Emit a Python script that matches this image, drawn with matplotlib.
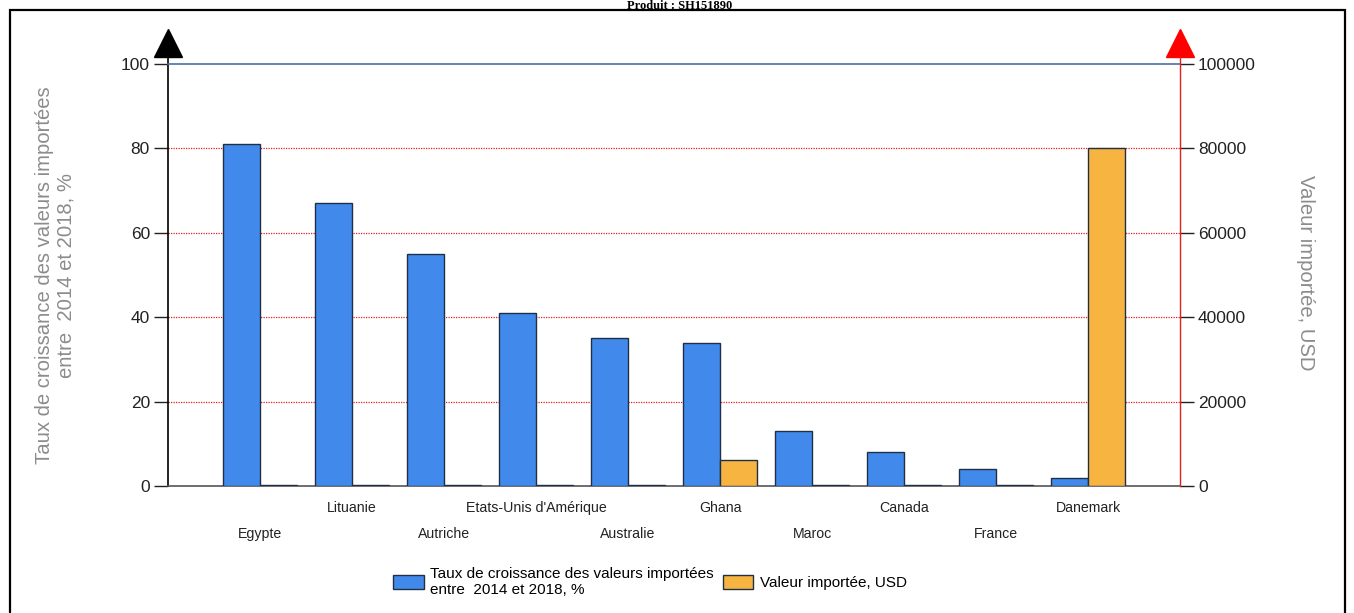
import matplotlib
matplotlib.use("Agg")
import matplotlib.pyplot as plt
import numpy as np
from matplotlib.patches import Rectangle

# data
countries = ["Egypte", "Lituanie", "Autriche", "Etats-Unis d'Amérique", "Australie",
             "Ghana", "Maroc", "Canada", "France", "Danemark"]
growth_pct = [81, 67, 55, 41, 35, 34, 13, 8, 4, 2]
import_usd = [150, 150, 150, 150, 150, 6200, 150, 150, 150, 80000]

label_growth = "Taux de croissance des valeurs importées\nentre  2014 et 2018, %"
label_value = "Valeur importée, USD"

plt.rcParams['font.family'] = ['Liberation Sans', 'DejaVu Sans']

W, H = 1354, 613
fig = plt.figure(figsize=(W / 100, H / 100), dpi=100)
ax = fig.add_axes([168 / W, 127 / H, 1012 / W, 422 / H])
ax2 = ax.twinx()

x = np.arange(1, len(countries) + 1)
b1 = ax.bar(x - 0.2, growth_pct, width=0.4, color='#418aeb', edgecolor='#1f2f45', lw=1, zorder=3)
b2 = ax2.bar(x + 0.2, import_usd, width=0.4, color='#f8b440', edgecolor='#1f2f45', lw=1, zorder=3)

ax.set_xlim(0, 11)
ax.set_ylim(0, 100)
ax2.set_ylim(0, 100000)
ax.set_yticks(range(0, 101, 20))
ax2.set_yticks(range(0, 100001, 20000))
ax.set_xticks([])

# red dotted grid lines
for v in [20, 40, 60, 80]:
    ax.axhline(v, color='#e02020', ls=(0, (1, 1)), lw=0.9, zorder=1)

# spines
ax.spines['right'].set_visible(False)
ax.spines['top'].set_color('#4a72a8')
ax.spines['top'].set_linewidth(1.2)
ax.spines['left'].set_color('black')
ax.spines['left'].set_linewidth(1.2)
ax.spines['left'].set_bounds(0, 102)
ax.spines['bottom'].set_color('#555555')
ax.spines['bottom'].set_linewidth(1.2)
for s in ['left', 'top', 'bottom']:
    ax2.spines[s].set_visible(False)
ax2.spines['right'].set_color('#e02020')
ax2.spines['right'].set_linestyle((0, (1, 1)))
ax2.spines['right'].set_linewidth(1)
ax2.spines['right'].set_bounds(0, 102000)

ax.tick_params(axis='y', direction='out', length=10, width=1, labelsize=12.5, pad=3, colors='#222222')
ax2.tick_params(axis='y', direction='out', length=10, width=1, labelsize=12.5, pad=3, colors='#222222')

# arrow heads at the top of both axes
ax.plot(0, 1.05, marker='^', ms=20, color='black', transform=ax.transAxes, clip_on=False)
ax2.plot(1, 1.05, marker='^', ms=20, color='red', transform=ax2.transAxes, clip_on=False)

# staggered category labels
for i, name in enumerate(countries):
    yoff = -48 / 422 if i % 2 == 0 else -22 / 422
    ax.text(x[i], yoff, name, transform=ax.get_xaxis_transform(),
            ha='center', va='center', fontsize=10.2, color='#222222')

fig.text(55 / W, 1 - 275 / H, label_growth, rotation=90, ha='center', va='center',
         multialignment='center', fontsize=14.6, color='#8c8c8c')
fig.text(1305 / W, 1 - 273 / H, label_value, rotation=270, ha='center', va='center',
         fontsize=14.6, color='#8c8c8c')

fig.legend(handles=[b1, b2], labels=[label_growth, label_value], loc='center',
           bbox_to_anchor=(650 / W, 31 / H), ncol=2, frameon=False, fontsize=11,
           handlelength=2.0, handleheight=1.0, columnspacing=0.6, handletextpad=0.4,
           labelspacing=0.1)

# title at the very top, above the frame
fig.text(680 / W, 1.0, "Produit : SH151890", ha='center', va='top',
         fontsize=9, fontweight='bold', family='Liberation Serif')

# frame around the picture
fig.patches.append(Rectangle((10 / W, -0.02), 1335 / W, 603 / H + 0.02,
                             transform=fig.transFigure, fill=False, lw=1.6, ec='black'))

fig.savefig('out.png', dpi=100)
